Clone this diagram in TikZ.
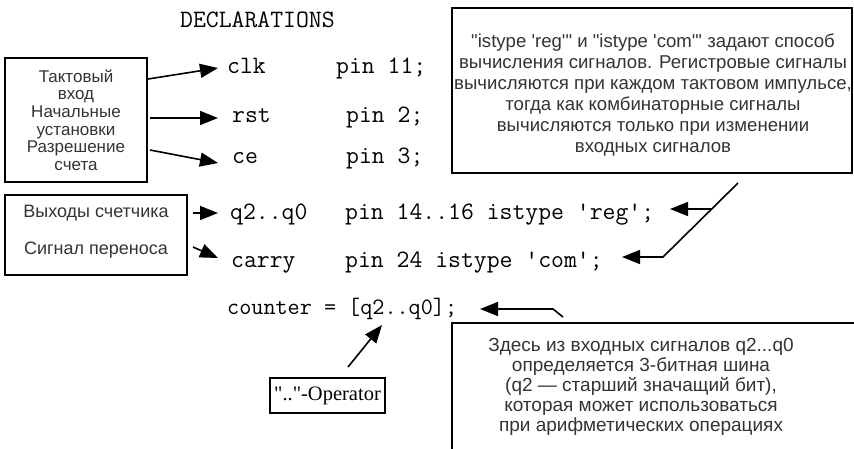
\documentclass[tikz,border=0pt]{standalone}
\usepackage{fontspec}
\setmainfont{Liberation Sans}
\newfontfamily\opfont{Liberation Serif}
\usetikzlibrary{arrows.meta}
\begin{document}
\begin{tikzpicture}[x=1pt,y=-1pt,
  box/.style={draw, line width=1.2pt, inner sep=0pt},
  code/.style={font=\ttfamily\fontsize{25}{25}\selectfont, anchor=base west, inner sep=0pt},
  note/.style={font=\fontsize{18.6}{21}\selectfont, align=center, text=black!80, inner sep=0pt},
  lbl/.style={font=\fontsize{17}{17.6}\selectfont, align=center, text=black!80, inner sep=0pt},
  arr/.style={line width=1.6pt, -{Triangle[length=18pt,width=14pt]}},
]
\useasboundingbox (0,0) rectangle (854,448);

% code
\node[code] (decl) at (180,27) {DECLARATIONS};
\node[code] (clk) at (227,73) {clk};
\node[code] (clkpin) at (336,73) {pin 11;};
\node[code] (rst) at (232,122) {rst};
\node[code] (rstpin) at (346,122) {pin 2;};
\node[code] (ce) at (232,163) {ce};
\node[code] (cepin) at (346,163) {pin 3;};
\node[code] (q) at (230,219) {q2..q0};
\node[code] (qpin) at (345,219) {pin 14..16 istype \textquotesingle reg\textquotesingle;};
\node[code] (carry) at (231,267) {carry};
\node[code] (carrypin) at (345,267) {pin 24 istype \textquotesingle com\textquotesingle;};
\node[code, font=\ttfamily\fontsize{23.5}{23.5}\selectfont] (counter) at (227,314) {counter = [q2..q0];};

% left boxes
\node[box, lbl, minimum width=142pt, minimum height=124pt] (box1) at (76,120)
  {Тактовый\\вход\\Начальные\\установки\\Разрешение\\счета};
\node[box, minimum width=182pt, minimum height=80pt] (box2) at (96,235) {};
\node[lbl, font=\fontsize{18}{18}\selectfont] (outs) at (96,213) {Выходы счетчика};
\node[lbl, font=\fontsize{18}{18}\selectfont] (carr) at (96,250) {Сигнал переноса};

% note boxes
\node[box, minimum width=400pt, minimum height=165pt] (note1) at (652,90.5) {};
\node[note] (note1txt) at (653,95)
  {\textquotedbl istype \textquotesingle reg\textquotesingle\textquotedbl{} и \textquotedbl istype \textquotesingle com\textquotesingle\textquotedbl{} задают способ\\
   вычисления сигналов. Регистровые сигналы\\
   вычисляются при каждом тактовом импульсе,\\
   тогда как комбинаторные сигналы\\
   вычисляются только при изменении\\
   входных сигналов};
\node[box, minimum width=428pt, minimum height=147pt] (note2) at (666,396.5) {};
\node[note, font=\fontsize{19}{20}\selectfont] (note2txt) at (641,387)
  {Здесь из входных сигналов q2...q0\\
   определяется 3-битная шина\\
   (q2 — старший значащий бит),\\
   которая может использоваться\\
   при арифметических операциях};
\node[box, minimum width=115pt, minimum height=35pt, font=\opfont\fontsize{20.5}{20.5}\selectfont] (op) at (327.5,395.5)
  {\textquotedbl..\textquotedbl-Operator};

% connector points
\coordinate (s1) at (148,79);  \coordinate (t1) at (218,68);
\coordinate (s2) at (150,118); \coordinate (t2) at (218,118);
\coordinate (s3) at (150,150); \coordinate (t3) at (218,163);
\coordinate (s4) at (193,213); \coordinate (t4) at (218,213);
\coordinate (s5) at (193,247); \coordinate (t5) at (218,258);
\coordinate (n1a) at (738,183); \coordinate (n1b) at (663,257); \coordinate (t6) at (622,257);
\coordinate (n1c) at (711.6,209); \coordinate (t7) at (670,209);
\coordinate (n2a) at (563,317); \coordinate (n2b) at (553,309); \coordinate (t8) at (480,309);
\coordinate (opa) at (348,367); \coordinate (t9) at (382,325);

\draw[arr] (s1) -- (t1);
\draw[arr] (s2) -- (t2);
\draw[arr] (s3) -- (t3);
\draw[arr] (s4) -- (t4);
\draw[arr] (s5) -- (t5);
\draw[arr] (n1a) -- (n1b) -- (t6);
\draw[arr] (n1c) -- (t7);
\draw[arr] (n2a) -- (n2b) -- (t8);
\draw[arr] (opa) -- (t9);
\end{tikzpicture}
\end{document}
